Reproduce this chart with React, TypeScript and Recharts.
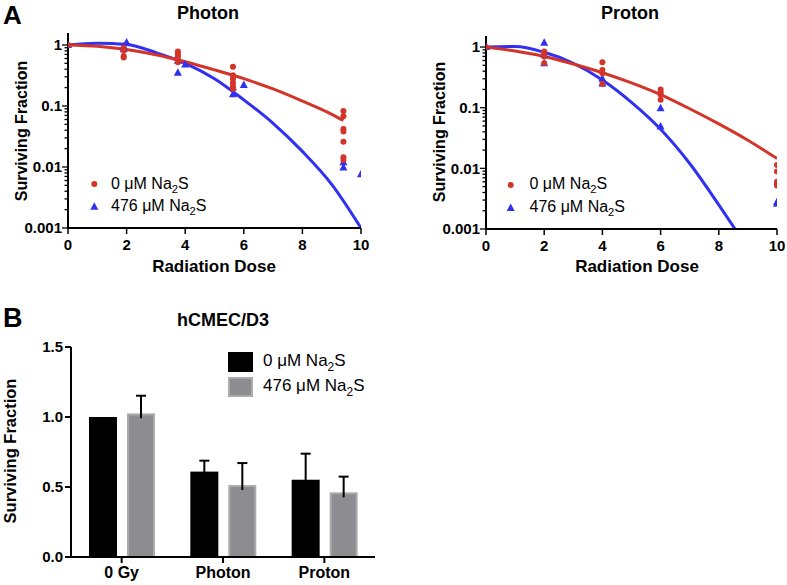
import React from 'react';
import { ComposedChart, Line, Scatter, XAxis, YAxis, BarChart, Bar } from 'recharts';

const FONT = '"Liberation Sans", Arial, Helvetica, sans-serif';
const RED = '#d3342a';
const BLUE = '#3030f2';
const BAR_BLACK = '#000000';
const BAR_GRAY = '#8d8d91';
const BAR_GRAY_EDGE = '#ababab';

type Pt = { dose: number; sf: number };
const mk = (pairs: number[][]): Pt[] => pairs.map(([dose, sf]) => ({ dose, sf }));

// ---------- Panel A: Photon ----------
const photonCtrlPoints = mk([
  [0, 1.0], [1.9, 0.9], [1.9, 0.82], [1.9, 0.66], [1.9, 0.62],
  [3.75, 0.78], [3.75, 0.72], [3.75, 0.65], [3.75, 0.58], [3.75, 0.52],
  [5.63, 0.44], [5.63, 0.32], [5.63, 0.28], [5.63, 0.24], [5.63, 0.21], [5.63, 0.19],
  [9.4, 0.083], [9.4, 0.068], [9.4, 0.042], [9.4, 0.038], [9.4, 0.026], [9.4, 0.0145], [9.4, 0.013],
]);
const photonNaSPoints = mk([
  [0, 1.0], [2.0, 1.1], [1.9, 0.95], [1.9, 0.85],
  [3.75, 0.35], [3.75, 0.55], [4.0, 0.48],
  [5.63, 0.155], [5.63, 0.2], [6.0, 0.22],
  [9.4, 0.012], [9.4, 0.0098], [10, 0.0076],
]);
const photonCtrlFit = mk([
  [0, 1.0], [1, 0.95], [2, 0.84], [3, 0.69], [4, 0.53], [5, 0.39],
  [6, 0.28], [7, 0.19], [8, 0.12], [9, 0.073], [9.4, 0.058],
]);
const photonNaSFit = mk([
  [0, 1.0], [1, 1.07], [2, 1.02], [3, 0.75], [4, 0.5], [5, 0.28],
  [6, 0.126], [7, 0.052], [8, 0.018], [9, 0.0052], [10, 0.001],
]);

// ---------- Panel A: Proton ----------
const protonCtrlPoints = mk([
  [0, 1.0], [2, 0.84], [2, 0.78], [2, 0.7], [2, 0.54],
  [4, 0.56], [4, 0.42], [4, 0.37], [4, 0.245],
  [6, 0.2], [6, 0.18], [6, 0.165], [6, 0.135],
  [10, 0.0114], [10, 0.0089], [10, 0.006], [10, 0.0055], [10, 0.0052],
]);
const protonNaSPoints = mk([
  [0, 1.0], [2, 1.18], [2, 0.75], [2, 0.54],
  [4, 0.3], [4, 0.25],
  [6, 0.098], [6, 0.049],
  [10, 0.0028], [10, 0.0026],
]);
const protonCtrlFit = mk([
  [0, 1.0], [1, 0.86], [2, 0.7], [3, 0.525], [4, 0.377], [5, 0.256],
  [6, 0.164], [7, 0.096], [8, 0.054], [9, 0.029], [10, 0.0145],
]);
const protonNaSFit = mk([
  [0, 1.0], [1, 1.02], [2, 0.82], [3, 0.54], [4, 0.285], [5, 0.122],
  [6, 0.044], [7, 0.012], [8, 0.0025], [8.56, 0.001],
]);

const doseTicks = [0, 2, 4, 6, 8, 10];
const logMajorTicks = [0.001, 0.01, 0.1, 1];
const logMinorTicks = [
  0.002, 0.003, 0.004, 0.005, 0.006, 0.007, 0.008, 0.009,
  0.02, 0.03, 0.04, 0.05, 0.06, 0.07, 0.08, 0.09,
  0.2, 0.3, 0.4, 0.5, 0.6, 0.7, 0.8, 0.9,
];
const logTicks = [...logMajorTicks, ...logMinorTicks].sort((a, b) => a - b);

// ---------- Panel B ----------
const barCategories = ['0 Gy', 'Photon', 'Proton'];
const ctrlMean = [1.0, 0.61, 0.552];
const ctrlErrTop: (number | null)[] = [null, 0.688, 0.738];
const nasMean = [1.026, 0.514, 0.462];
const nasErrTop: (number | null)[] = [1.152, 0.671, 0.574];
const barTicks = [0, 0.5, 1.0, 1.5];

const barData = barCategories.map((cat, i) => ({
  cat,
  ctrl: ctrlMean[i],
  ctrlTop: ctrlErrTop[i],
  nas: nasMean[i],
  nasTop: nasErrTop[i],
}));

const isMajor = (v: number) => logMajorTicks.some((m) => Math.abs(m - v) < 1e-9);

const LogTick = (props: any) => {
  const { x, y, payload } = props;
  const v = payload.value;
  const major = isMajor(v);
  return (
    <g>
      <line x1={x - (major ? 6 : 3.5)} x2={x} y1={y} y2={y} stroke="#000" strokeWidth={1.3} />
      {major && (
        <text x={x - 6} y={y} dy="0.36em" textAnchor="end" fontFamily={FONT} fontWeight="bold" fontSize={15} fill="#000">
          {String(v)}
        </text>
      )}
    </g>
  );
};

const DotShape = (p: any) => <circle cx={p.cx} cy={p.cy} r={3} fill={RED} />;
const TriShape = (p: any) => (
  <polygon points={`${p.cx},${p.cy - 4.5} ${p.cx - 4},${p.cy + 3} ${p.cx + 4},${p.cy + 3}`} fill={BLUE} />
);

function SurvivalPanel(props: {
  width: number; height: number; margin: any; top: number;
  ctrlPts: Pt[]; nasPts: Pt[]; ctrlFit: Pt[]; nasFit: Pt[];
}) {
  const { width, height, margin, top, ctrlPts, nasPts, ctrlFit, nasFit } = props;
  return (
    <ComposedChart width={width} height={height} margin={margin}>
      <XAxis
        type="number" dataKey="dose" domain={[0, 10]} ticks={doseTicks} interval={0} allowDataOverflow
        axisLine={{ stroke: '#000', strokeWidth: 2 }} tickLine={{ stroke: '#000', strokeWidth: 1.5 }}
        tickSize={6} tickMargin={5} height={30}
        tick={{ fill: '#000', fontSize: 15, fontWeight: 'bold', fontFamily: FONT }}
      />
      <YAxis
        type="number" dataKey="sf" scale="log" domain={[0.001, top]} allowDataOverflow ticks={logTicks} interval={0}
        axisLine={{ stroke: '#000', strokeWidth: 2 }} tickLine={false} tickSize={0} tickMargin={0} width={60}
        tick={(p: any) => <LogTick {...p} />}
      />
      <Line data={nasFit} dataKey="sf" type="monotone" stroke={BLUE} strokeWidth={3} dot={false} isAnimationActive={false} />
      <Line data={ctrlFit} dataKey="sf" type="monotone" stroke={RED} strokeWidth={3} dot={false} isAnimationActive={false} />
      <Scatter data={nasPts} dataKey="sf" shape={TriShape} isAnimationActive={false} />
      <Scatter data={ctrlPts} dataKey="sf" shape={DotShape} isAnimationActive={false} />
    </ComposedChart>
  );
}

const makeBarShape = (topKey: 'ctrlTop' | 'nasTop', gray: boolean) => (p: any) => {
  const { x, y, width, height, payload, value } = p;
  const v = Array.isArray(value) ? value[1] - value[0] : value;
  const errTop = payload[topKey];
  const base = y + height;
  const errY = errTop != null && v ? base - (errTop * height) / v : null;
  const cx = x + width / 2;
  return (
    <g>
      {gray ? (
        <rect x={x + 1} y={y + 1} width={width - 2} height={height - 1} fill={BAR_GRAY} stroke={BAR_GRAY_EDGE} strokeWidth={2} />
      ) : (
        <rect x={x} y={y} width={width} height={height} fill={BAR_BLACK} />
      )}
      {errY != null && (
        <g stroke="#000" strokeWidth={2}>
          <line x1={cx} x2={cx} y1={errY} y2={y + 5} />
          <line x1={cx - 5} x2={cx + 5} y1={errY} y2={errY} />
        </g>
      )}
    </g>
  );
};

const Sub = ({ x, y, size, pre }: { x: number; y: number; size: number; pre: string }) => (
  <text x={x} y={y} fontFamily={FONT} fontSize={size} fill="#000">
    {pre}
    <tspan dy={size * 0.28} fontSize={size * 0.7}>2</tspan>
    <tspan dy={-size * 0.28}>S</tspan>
  </text>
);

const Tri = ({ cx, cy }: { cx: number; cy: number }) => (
  <polygon points={`${cx},${cy - 4.5} ${cx - 4},${cy + 3} ${cx + 4},${cy + 3}`} fill={BLUE} />
);

export default function App() {
  return (
    <div style={{ position: 'absolute', left: 0, top: 0, width: 787, height: 585, background: '#fff', fontFamily: FONT }}>
      <div style={{ position: 'absolute', left: 0, top: 0 }}>
        <SurvivalPanel
          width={390} height={260} margin={{ top: 33, right: 29, bottom: 2, left: 8 }} top={1.57}
          ctrlPts={photonCtrlPoints} nasPts={photonNaSPoints} ctrlFit={photonCtrlFit} nasFit={photonNaSFit}
        />
      </div>
      <div style={{ position: 'absolute', left: 390, top: 0 }}>
        <SurvivalPanel
          width={397} height={260} margin={{ top: 36, right: 10, bottom: 1, left: 36 }} top={1.52}
          ctrlPts={protonCtrlPoints} nasPts={protonNaSPoints} ctrlFit={protonCtrlFit} nasFit={protonNaSFit}
        />
      </div>
      <div style={{ position: 'absolute', left: 0, top: 290 }}>
        <BarChart width={540} height={295} data={barData} margin={{ top: 57, right: 165, bottom: 0, left: 11 }} barSize={28} barGap={10}>
          <XAxis
            dataKey="cat" height={28} axisLine={{ stroke: '#000', strokeWidth: 2 }}
            tickLine={{ stroke: '#000', strokeWidth: 2 }} tickSize={6} tickMargin={4}
            tick={{ fill: '#000', fontSize: 16, fontWeight: 'bold', fontFamily: FONT }}
          />
          <YAxis
            type="number" domain={[0, 1.5]} ticks={barTicks} interval={0} width={60}
            tickFormatter={(v: number) => v.toFixed(1)}
            axisLine={{ stroke: '#000', strokeWidth: 2 }} tickLine={{ stroke: '#000', strokeWidth: 2 }}
            tickSize={6} tickMargin={2}
            tick={{ fill: '#000', fontSize: 15, fontWeight: 'bold', fontFamily: FONT }}
          />
          <Bar dataKey="ctrl" fill={BAR_BLACK} shape={makeBarShape('ctrlTop', false)} isAnimationActive={false} />
          <Bar dataKey="nas" fill={BAR_GRAY} shape={makeBarShape('nasTop', true)} isAnimationActive={false} />
        </BarChart>
      </div>

      <svg width={787} height={585} style={{ position: 'absolute', left: 0, top: 0, pointerEvents: 'none' }}>
        {/* panel letters */}
        <text x={3} y={24} fontFamily={FONT} fontWeight="bold" fontSize={26}>A</text>
        <text x={3} y={327} fontFamily={FONT} fontWeight="bold" fontSize={27}>B</text>
        {/* titles */}
        <text x={208} y={18.5} textAnchor="middle" fontFamily={FONT} fontWeight="bold" fontSize={18}>Photon</text>
        <text x={630} y={18.5} textAnchor="middle" fontFamily={FONT} fontWeight="bold" fontSize={18}>Proton</text>
        <text x={223} y={325.7} textAnchor="middle" fontFamily={FONT} fontWeight="bold" fontSize={18}>hCMEC/D3</text>
        {/* x axis titles */}
        <text x={214} y={272} textAnchor="middle" fontFamily={FONT} fontWeight="bold" fontSize={17}>Radiation Dose</text>
        <text x={637} y={272} textAnchor="middle" fontFamily={FONT} fontWeight="bold" fontSize={17}>Radiation Dose</text>
        {/* y axis titles */}
        <text transform="translate(27,131) rotate(-90)" textAnchor="middle" fontFamily={FONT} fontWeight="bold" fontSize={16}>Surviving Fraction</text>
        <text transform="translate(445,132) rotate(-90)" textAnchor="middle" fontFamily={FONT} fontWeight="bold" fontSize={16}>Surviving Fraction</text>
        <text transform="translate(15.5,451) rotate(-90)" textAnchor="middle" fontFamily={FONT} fontWeight="bold" fontSize={16.5}>Surviving Fraction</text>

        {/* photon legend */}
        <circle cx={94.3} cy={184} r={3} fill={RED} />
        <Sub x={111} y={188.5} size={16} pre="0 μM Na" />
        <Tri cx={94.3} cy={206.7} />
        <Sub x={111} y={211} size={16} pre="476 μM Na" />

        {/* proton legend */}
        <circle cx={510.7} cy={185} r={3} fill={RED} />
        <Sub x={529.5} y={188.5} size={16} pre="0 μM Na" />
        <Tri cx={510.7} cy={208} />
        <Sub x={529.5} y={211.5} size={16} pre="476 μM Na" />

        {/* bar legend */}
        <rect x={228} y={352} width={25} height={20} fill={BAR_BLACK} />
        <Sub x={263} y={366} size={17} pre="0 μM Na" />
        <rect x={229} y={378} width={23} height={18} fill={BAR_GRAY} stroke={BAR_GRAY_EDGE} strokeWidth={2} />
        <Sub x={263} y={391} size={17} pre="476 μM Na" />
      </svg>
    </div>
  );
}
